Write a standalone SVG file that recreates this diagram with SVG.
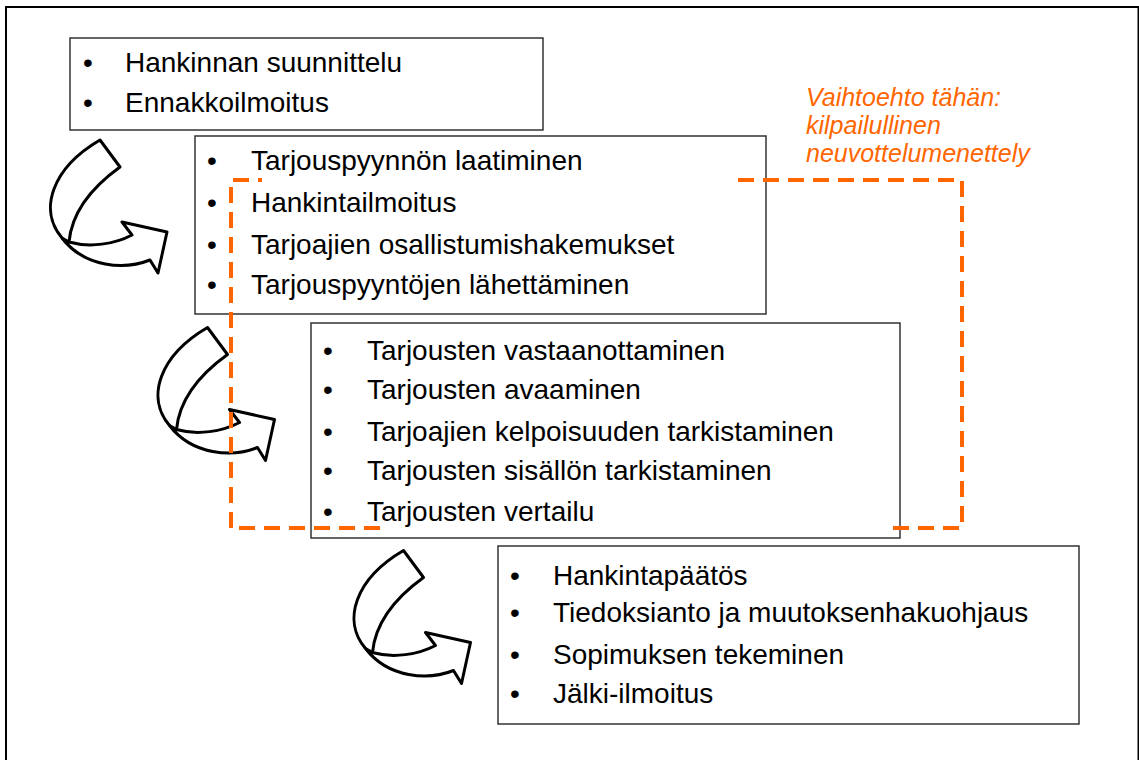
<svg xmlns="http://www.w3.org/2000/svg" width="1139" height="760" viewBox="0 0 1139 760">
<style>
.box{fill:#fff;stroke:#333;stroke-width:1.5}
.t{font-family:"Liberation Sans",Arial,sans-serif;font-size:28px;fill:#000}
.o{font-family:"Liberation Sans",Arial,sans-serif;font-size:25px;font-style:italic;fill:#FF6600}
.arrow{fill:#fff;stroke:#000;stroke-width:3;stroke-linejoin:round}
.dash{fill:none;stroke:#FF6600;stroke-width:4;stroke-dasharray:16 9}
</style>
<defs>
<g id="curvedArrow">
<path class="arrow" d="M100,140 L120,167 C95,185 72,210 69,242 C90,248 115,244 132,235 L122,222 L167,232 L158,273 L150,260 C125,270 85,268 62,238 C38,210 52,168 100,140 Z"/>
<path class="arrow" d="M62,238 L69,242" fill="none"/>
</g>
</defs>
<rect x="6" y="7" width="1132.5" height="800" fill="#fff" stroke="#000" stroke-width="2"/>
<g id="box1">
<rect class="box" x="70" y="38" width="473" height="92"/>
</g>
<g id="box2">
<rect class="box" x="195" y="136" width="571" height="178"/>
</g>
<g id="box3">
<rect class="box" x="311" y="323" width="589" height="215"/>
</g>
<g id="box4">
<rect class="box" x="498" y="546" width="581" height="178"/>
</g>
<g id="connectors">
<use href="#curvedArrow"/>
<use href="#curvedArrow" transform="translate(107.5,187.5)"/>
<use href="#curvedArrow" transform="translate(303.5,410.5)"/>
</g>
<g id="alternative">
<path class="dash" d="M231,528 L231,180 L262,180 M738,180 L962,180 L962,528 L886,528 M380,528 L231,528"/>
<text class="o" x="806" y="106">Vaihtoehto tähän:</text>
<text class="o" x="806" y="134">kilpailullinen</text>
<text class="o" x="806" y="162">neuvottelumenettely</text>
</g>
<g id="box1-text">
<text class="t" x="83" y="72">•</text><text class="t" x="125" y="72">Hankinnan suunnittelu</text>
<text class="t" x="83" y="112">•</text><text class="t" x="125" y="112">Ennakkoilmoitus</text>
</g>
<g id="box2-text">
<text class="t" x="207" y="170">•</text><text class="t" x="251" y="170">Tarjouspyynnön laatiminen</text>
<text class="t" x="207" y="212">•</text><text class="t" x="251" y="212">Hankintailmoitus</text>
<text class="t" x="207" y="254">•</text><text class="t" x="251" y="254">Tarjoajien osallistumishakemukset</text>
<text class="t" x="207" y="294">•</text><text class="t" x="251" y="294">Tarjouspyyntöjen lähettäminen</text>
</g>
<g id="box3-text">
<text class="t" x="323" y="360">•</text><text class="t" x="367" y="360">Tarjousten vastaanottaminen</text>
<text class="t" x="323" y="399">•</text><text class="t" x="367" y="399">Tarjousten avaaminen</text>
<text class="t" x="323" y="441">•</text><text class="t" x="367" y="441">Tarjoajien kelpoisuuden tarkistaminen</text>
<text class="t" x="323" y="480">•</text><text class="t" x="367" y="480">Tarjousten sisällön tarkistaminen</text>
<text class="t" x="323" y="521">•</text><text class="t" x="367" y="521">Tarjousten vertailu</text>
</g>
<g id="box4-text">
<text class="t" x="510" y="585">•</text><text class="t" x="553" y="585">Hankintapäätös</text>
<text class="t" x="510" y="622">•</text><text class="t" x="553" y="622">Tiedoksianto ja muutoksenhakuohjaus</text>
<text class="t" x="510" y="664">•</text><text class="t" x="553" y="664">Sopimuksen tekeminen</text>
<text class="t" x="510" y="703">•</text><text class="t" x="553" y="703">Jälki-ilmoitus</text>
</g>
</svg>
